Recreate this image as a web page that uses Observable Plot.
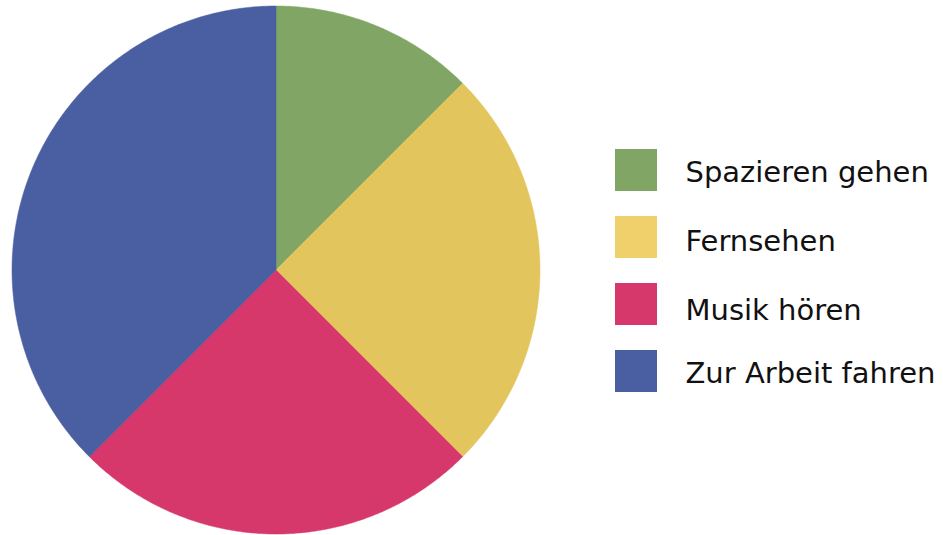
<!DOCTYPE html>
<html>
<head>
<meta charset="utf-8">
<script src="https://cdn.jsdelivr.net/npm/d3@7"></script>
<script src="https://cdn.jsdelivr.net/npm/@observablehq/plot@0.6"></script>
<style>
  html, body { margin: 0; padding: 0; background: #fff; }
  #chart { width: 943px; height: 535px; }
</style>
</head>
<body>
<div id="chart"></div>
<script>
const categories = ["Spazieren gehen", "Fernsehen", "Musik hören", "Zur Arbeit fahren"];
const values = [12.5, 25, 25, 37.5];
const sliceColors = ["#80a564", "#e3c55e", "#d6386c", "#4a5fa1"];
const legendColors = ["#80a564", "#f0d06a", "#d6386c", "#4a5fa1"];

const W = 943, H = 535;
const cx = 275.5, cy = 269.5, R = 264;

const table = categories.map((c, i) => ({category: c, value: values[i]}));
const arcs = d3.pie().sort(null).value(d => d.value)(table);

// polygon outline of each slice
const slicePts = [];
arcs.forEach(a => {
  const n = Math.max(2, Math.ceil((a.endAngle - a.startAngle) / (Math.PI / 360)));
  slicePts.push({category: a.data.category, px: cx, py: cy});
  for (let k = 0; k <= n; k++) {
    const t = a.startAngle + (a.endAngle - a.startAngle) * k / n;
    slicePts.push({category: a.data.category, px: cx + R * Math.sin(t), py: cy - R * Math.cos(t)});
  }
  slicePts.push({category: a.data.category, px: cx, py: cy});
});

const legend = categories.map((c, i) => ({category: c, i}));
const lx = 615, ly = 149, sw = 42, step = 67;
const labelY = [172, 241, 310, 373];

const chart = Plot.plot({
  width: W,
  height: H,
  margin: 0,
  x: {domain: [0, W], range: [0, W], axis: null},
  y: {domain: [0, H], range: [0, H], axis: null},
  color: {domain: categories, range: sliceColors},
  style: {background: "#fff"},
  marks: [
    Plot.line(slicePts, {x: "px", y: "py", z: "category", fill: "category", stroke: "category", strokeWidth: 0.5, curve: "linear"}),
    Plot.rect(legend, {
      x1: () => lx, x2: () => lx + sw,
      y1: d => ly + d.i * step, y2: d => ly + d.i * step + sw,
      fill: d => legendColors[d.i], insetTop: 0, insetBottom: 0
    }),
    Plot.text(legend, {
      x: () => 685, y: d => labelY[d.i],
      text: "category", textAnchor: "start", fill: "#111",
      fontSize: 29, fontFamily: "DejaVu Sans"
    })
  ]
});
document.getElementById("chart").appendChild(chart);
</script>
</body>
</html>
